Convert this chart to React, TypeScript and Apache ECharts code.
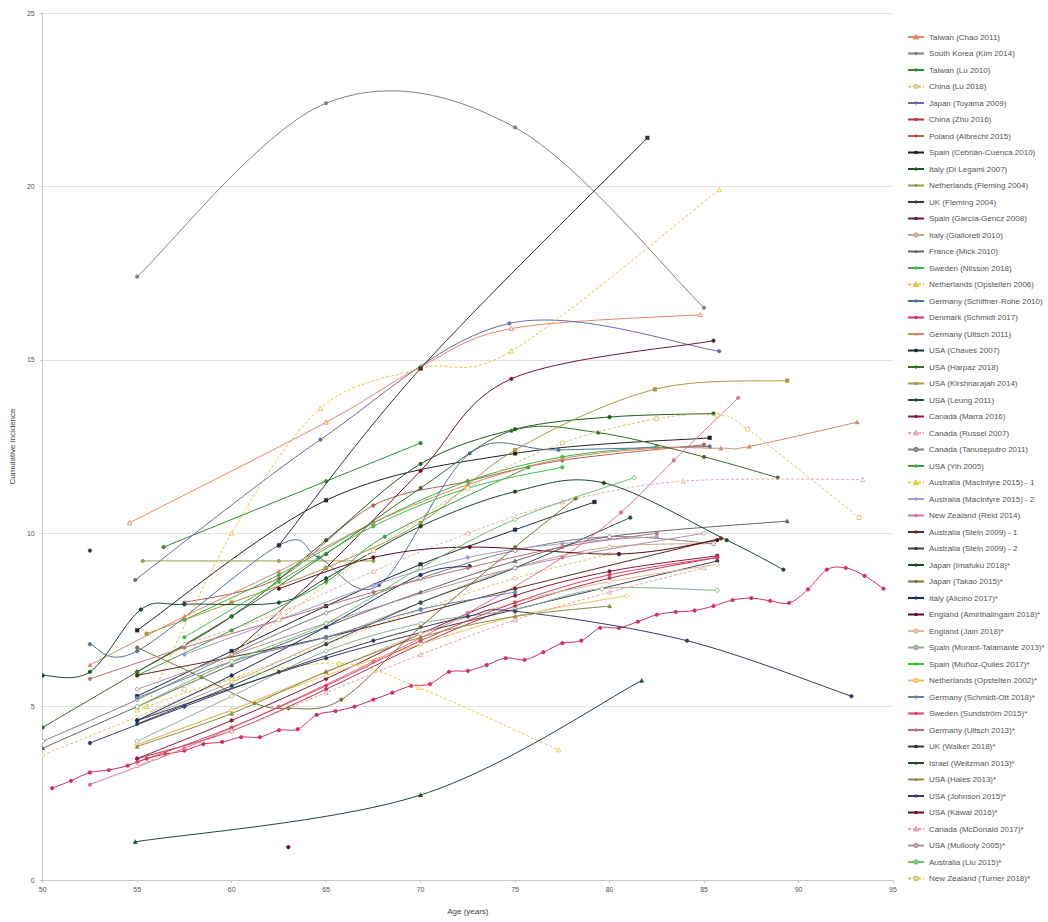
import React, { useEffect, useRef } from "react";
import * as echarts from "echarts";

// ---- data (age, cumulative incidence) ----
const taiwanChao2011 = [[54.6, 10.3], [65, 13.2], [70, 14.8], [74.8, 15.9], [84.8, 16.3]];
const southKoreaKim2014 = [[55, 17.4], [65, 22.4], [75, 21.7], [85, 16.5]];
const taiwanLu2010 = [[56.4, 9.6], [65, 11.5], [70, 12.6]];
const chinaLu2018 = [[50, 3.6], [55, 4.7], [60, 5.8], [65, 6.8], [70, 7.8], [75, 8.7], [80, 9.4]];
const japanToyama2009 = [[54.9, 8.65], [64.7, 12.7], [74.7, 16.05], [85.8, 15.25]];
const chinaZhu2016 = [[55, 3.5], [60, 4.3], [65, 5.5], [70, 6.8], [75, 7.9], [80, 8.7], [85.7, 9.3]];
const polandAlbrecht2015 = [[57.5, 8.0], [62.5, 8.7], [67.5, 10.8], [72.5, 11.5], [77.5, 12.1], [85, 12.55]];
const spainCebrian2010 = [[55, 7.2], [65, 10.95], [75, 12.3], [85.3, 12.75]];
const italyDiLegami2007 = [[55, 6.0], [60, 7.6], [65, 9.8], [70, 12.0], [75, 13.0], [80, 13.35], [85.5, 13.45]];
const netherlandsFleming2004 = [[55.3, 9.2], [62.5, 9.2], [67.5, 9.2]];
const ukFleming2004 = [[52.5, 9.5]];
const spainGarciaGencz2008 = [[60, 6.5], [65, 9.0], [70, 11.8], [74.8, 14.45], [85.5, 15.55]];
const italyGialloreti2010 = [[55, 4.6], [60, 5.7], [65, 6.9], [70, 8.0], [75, 9.0], [80, 9.6], [85.5, 9.7]];
const franceMick2010 = [[50, 3.8], [55, 5.0], [60, 6.2], [65, 7.3], [70, 8.3], [75, 9.2], [80, 9.9], [89.4, 10.35]];
const swedenNilsson2018 = [[57.5, 7.5], [62.5, 8.8], [67.5, 10.3], [72.5, 11.5], [77.5, 12.2], [82.5, 12.5]];
const netherlandsOpstelten2006 = [[55.5, 5.0], [60, 10.0], [64.7, 13.6], [70, 14.75], [74.8, 15.25], [85.8, 19.9]];
const germanySchiffnerRohe2010 = [[52.5, 6.8], [55, 6.6], [62.5, 9.65], [64.6, 9.3], [67.8, 8.5], [72.6, 12.3], [77.3, 12.4], [85.3, 12.5]];
const denmarkAges = [50.5, 51.5, 52.5, 53.5, 54.5, 55.5, 56.5, 57.5, 58.5, 59.5, 60.5, 61.5, 62.5, 63.5, 64.5, 65.5, 66.5, 67.5, 68.5, 69.5, 70.5, 71.5, 72.5, 73.5, 74.5, 75.5, 76.5, 77.5, 78.5, 79.5, 80.5, 81.5, 82.5, 83.5, 84.5, 85.5, 86.5, 87.5, 88.5, 89.5, 90.5, 91.5, 92.5, 93.5, 94.5];
const denmarkValues = [2.65, 2.86, 3.1, 3.17, 3.3, 3.5, 3.63, 3.73, 3.92, 3.98, 4.12, 4.12, 4.32, 4.35, 4.76, 4.87, 5.0, 5.2, 5.4, 5.6, 5.65, 6.0, 6.03, 6.2, 6.4, 6.35, 6.57, 6.83, 6.9, 7.27, 7.27, 7.45, 7.65, 7.73, 7.77, 7.9, 8.07, 8.13, 8.05, 7.99, 8.38, 8.95, 9.0, 8.77, 8.4];
const germanyUltsch2011 = [[52.5, 6.2], [57.5, 7.6], [62.5, 8.9], [67.5, 10.3], [72.5, 11.4], [77.5, 12.15], [82.5, 12.45], [85.9, 12.45], [87.4, 12.5], [93.1, 13.2]];
const usaChaves2007 = [[55, 5.3], [60, 6.6], [65, 7.9], [70, 9.1], [75, 10.1], [79.2, 10.9]];
const usaHarpaz2018 = [[50, 4.4], [55, 6.0], [60, 7.6], [65, 9.4], [70, 11.3], [74.8, 12.95], [79.4, 12.9], [85, 12.2], [88.9, 11.6]];
const usaKirshnarajah2014 = [[55.5, 7.1], [60, 8.0], [65, 9.0], [70, 10.3], [75, 12.4], [82.4, 14.15], [89.4, 14.4]];
const usaLeung2011 = [[55, 4.5], [60, 5.6], [65, 6.8], [70, 8.0], [75, 9.0], [81.1, 10.45]];
const canadaMarra2016 = [[55, 3.5], [60, 4.6], [65, 5.8], [70, 7.1], [75, 8.2], [80, 8.9], [85.7, 9.35]];
const canadaRussel2007 = [[57.5, 6.8], [62.5, 7.7], [67.5, 8.9], [72.5, 10.0], [77.5, 10.9], [83.9, 11.5], [93.4, 11.55]];
const canadaTanuseputro2011 = [[50, 4.0], [55, 5.2], [60, 6.5], [65, 7.7], [70, 8.7], [75, 9.5], [80, 9.9], [85.5, 9.7]];
const usaYih2005 = [[55, 5.9], [60, 7.2], [65, 8.6], [68.1, 9.9], [75.7, 11.9]];
const australiaMacIntyre1 = [[55, 4.9], [60, 5.8], [65.7, 6.25], [69.9, 5.55], [77.3, 3.75]];
const australiaMacIntyre2 = [[57.5, 6.5], [62.5, 7.5], [67.5, 8.5], [72.5, 9.3], [77.5, 9.7], [82.5, 9.9]];
const newZealandReid2014 = [[52.5, 2.75], [57.5, 3.8], [62.5, 5.0], [67.5, 6.3], [72.5, 7.7], [77.5, 9.3], [80.6, 10.6], [83.4, 12.1], [86.8, 13.9]];
const australiaStein1 = [[55, 5.9], [65, 7.0], [75, 8.4], [85.9, 9.85]];
const australiaStein2 = [[55, 4.6], [65, 6.4], [75, 7.8], [85.7, 9.2]];
const japanImafuku2018 = [[50, 5.9], [52.5, 6.0], [55.2, 7.8], [57.5, 7.95], [62.5, 8.0], [65, 8.7], [70, 10.2], [75, 11.2], [79.7, 11.45], [86.2, 9.8], [89.2, 8.95]];
const japanTakao2015 = [[55, 6.7], [58.4, 5.85], [61.2, 5.1], [63, 4.95], [65.8, 5.2], [70, 7.3], [75, 9.6], [78.2, 11.0]];
const italyAlicino2017 = [[55, 4.6], [60, 5.9], [65, 7.3], [70, 8.8], [72.6, 9.05]];
const englandAmirthalingam2018 = [[62.5, 8.4], [67.5, 9.3], [72.6, 9.6], [80.5, 9.4], [85.7, 9.8]];
const englandJain2018 = [[55, 3.9], [60, 4.9], [65, 6.0], [70, 7.1], [75, 8.0], [80, 8.6], [85.7, 9.1]];
const spainMorantTalamante2013 = [[55, 4.0], [60, 5.3], [65, 6.6], [70, 7.4], [75, 7.8], [79.6, 8.4], [85.7, 8.35]];
const spainMunozQuiles2017 = [[57.5, 7.0], [62.5, 8.6], [67.5, 10.2], [72.5, 11.3], [77.5, 11.9]];
const netherlandsOpstelten2002 = [[55, 3.9], [60, 4.9], [65, 5.9], [70, 6.8], [75, 7.6], [80.9, 8.2]];
const germanySchmidtOtt2018 = [[55, 5.25], [60, 6.3], [65, 7.0], [70, 7.8], [75, 8.3]];
const swedenSundstrom2015 = [[55, 3.4], [60, 4.4], [65, 5.6], [70, 6.9], [75, 8.0], [80, 8.8], [85.7, 9.3]];
const germanyUltsch2013 = [[52.5, 5.8], [57.5, 6.7], [62.5, 7.5], [67.5, 8.3], [72.5, 9.0], [77.5, 9.6], [82.5, 10.0]];
const ukWalker2018 = [[62.5, 9.65], [70, 14.75], [82, 21.4]];
const israelWeitzman2013 = [[54.9, 1.1], [70, 2.45], [81.7, 5.75]];
const usaHales2013 = [[55, 3.85], [60, 4.8], [65, 6.0], [70, 7.0], [75, 7.6], [80, 7.9]];
const usaJohnson2015 = [[52.5, 3.95], [57.5, 5.0], [62.5, 6.0], [67.5, 6.9], [72.5, 7.6], [75, 7.75], [84.1, 6.9], [92.8, 5.3]];
const usaKawai2016 = [[63, 0.95]];
const canadaMcDonald2017 = [[55, 3.3], [60, 4.3], [65, 5.4], [70, 6.5], [75, 7.5], [80, 8.3], [85, 9.0]];
const usaMullooly2005 = [[55, 5.5], [65, 7.4], [75, 9.0], [85, 10.0]];
const australiaLiu2015 = [[55, 5.0], [60, 6.3], [65, 7.4], [70, 9.0], [75, 10.4], [81.3, 11.6]];
const newZealandTurner2018 = [[57.5, 5.5], [62.5, 7.5], [67.5, 9.5], [72.5, 11.3], [77.5, 12.6], [82.5, 13.3], [85.7, 13.4], [87.3, 13.0], [93.2, 10.45]];

const xTicks = { min: 50, max: 95, interval: 5 };
const yTicks = { min: 0, max: 25, interval: 5 };

const denmarkSchmidt2017 = denmarkAges.map((a, i) => [a, denmarkValues[i]]);

type Def = { name: string; data: number[][]; color: string; dash?: boolean; symbol?: string };

const defs: Def[] = [
  { name: "Taiwan (Chao 2011)", data: taiwanChao2011, color: "#e8866a", symbol: "emptyTriangle" },
  { name: "South Korea (Kim 2014)", data: southKoreaKim2014, color: "#7f7f8c", symbol: "circle" },
  { name: "Taiwan (Lu 2010)", data: taiwanLu2010, color: "#2e8b2e", symbol: "circle" },
  { name: "China (Lu 2018)", data: chinaLu2018, color: "#e8c070", dash: true, symbol: "emptyCircle" },
  { name: "Japan (Toyama 2009)", data: japanToyama2009, color: "#6a6ab0", symbol: "circle" },
  { name: "China (Zhu 2016)", data: chinaZhu2016, color: "#c0304a", symbol: "circle" },
  { name: "Poland (Albrecht 2015)", data: polandAlbrecht2015, color: "#b06050", symbol: "circle" },
  { name: "Spain (Cebrián-Cuenca 2010)", data: spainCebrian2010, color: "#222222", symbol: "rect" },
  { name: "Italy (Di Legami 2007)", data: italyDiLegami2007, color: "#1f5a1f", symbol: "circle" },
  { name: "Netherlands (Fleming 2004)", data: netherlandsFleming2004, color: "#9a9a50", symbol: "circle" },
  { name: "UK (Fleming 2004)", data: ukFleming2004, color: "#3a3a4a", symbol: "circle" },
  { name: "Spain (García-Gencz 2008)", data: spainGarciaGencz2008, color: "#6a1a2a", symbol: "circle" },
  { name: "Italy (Gialloreti 2010)", data: italyGialloreti2010, color: "#c8a890", symbol: "emptyCircle" },
  { name: "France (Mick 2010)", data: franceMick2010, color: "#666666", symbol: "triangle" },
  { name: "Sweden (Nilsson 2018)", data: swedenNilsson2018, color: "#3cb43c", symbol: "circle" },
  { name: "Netherlands (Opstelten 2006)", data: netherlandsOpstelten2006, color: "#f0c040", dash: true, symbol: "emptyTriangle" },
  { name: "Germany (Schiffner-Rohe 2010)", data: germanySchiffnerRohe2010, color: "#5070a0", symbol: "circle" },
  { name: "Denmark (Schmidt 2017)", data: denmarkSchmidt2017, color: "#d0305a", symbol: "circle" },
  { name: "Germany (Ultsch 2011)", data: germanyUltsch2011, color: "#d08a6a", symbol: "triangle" },
  { name: "USA (Chaves 2007)", data: usaChaves2007, color: "#1a2a3a", symbol: "rect" },
  { name: "USA (Harpaz 2018)", data: usaHarpaz2018, color: "#3a6a2a", symbol: "circle" },
  { name: "USA (Kirshnarajah 2014)", data: usaKirshnarajah2014, color: "#a89a40", symbol: "rect" },
  { name: "USA (Leung 2011)", data: usaLeung2011, color: "#2a4a4a", symbol: "circle" },
  { name: "Canada (Marra 2016)", data: canadaMarra2016, color: "#8a1a3a", symbol: "circle" },
  { name: "Canada (Russel 2007)", data: canadaRussel2007, color: "#eeaaaa", dash: true, symbol: "emptyTriangle" },
  { name: "Canada (Tanuseputro 2011)", data: canadaTanuseputro2011, color: "#808080", symbol: "emptyCircle" },
  { name: "USA (Yih 2005)", data: usaYih2005, color: "#40a040", symbol: "circle" },
  { name: "Australia (MacIntyre 2015) - 1", data: australiaMacIntyre1, color: "#e8d040", dash: true, symbol: "emptyTriangle" },
  { name: "Australia (MacIntyre 2015) - 2", data: australiaMacIntyre2, color: "#a0a0d0", symbol: "circle" },
  { name: "New Zealand (Reid 2014)", data: newZealandReid2014, color: "#e07090", symbol: "circle" },
  { name: "Australia (Stein 2009) - 1", data: australiaStein1, color: "#5a2a1a", symbol: "circle" },
  { name: "Australia (Stein 2009) - 2", data: australiaStein2, color: "#3a3a5a", symbol: "circle" },
  { name: "Japan (Imafuku 2018)*", data: japanImafuku2018, color: "#1a4a2a", symbol: "circle" },
  { name: "Japan (Takao 2015)*", data: japanTakao2015, color: "#7a7030", symbol: "circle" },
  { name: "Italy (Alicino 2017)*", data: italyAlicino2017, color: "#1a2a6a", symbol: "circle" },
  { name: "England (Amirthalingam 2018)*", data: englandAmirthalingam2018, color: "#5a0a1a", symbol: "circle" },
  { name: "England (Jain 2018)*", data: englandJain2018, color: "#e0b890", symbol: "emptyCircle" },
  { name: "Spain (Morant-Talamante 2013)*", data: spainMorantTalamante2013, color: "#90b090", symbol: "emptyCircle" },
  { name: "Spain (Muñoz-Quiles 2017)*", data: spainMunozQuiles2017, color: "#40c040", symbol: "circle" },
  { name: "Netherlands (Opstelten 2002)*", data: netherlandsOpstelten2002, color: "#f0c060", symbol: "emptyCircle" },
  { name: "Germany (Schmidt-Ott 2018)*", data: germanySchmidtOtt2018, color: "#6080b0", symbol: "circle" },
  { name: "Sweden (Sundström 2015)*", data: swedenSundstrom2015, color: "#e04060", symbol: "circle" },
  { name: "Germany (Ultsch 2013)*", data: germanyUltsch2013, color: "#c07070", symbol: "circle" },
  { name: "UK (Walker 2018)*", data: ukWalker2018, color: "#333333", symbol: "rect" },
  { name: "Israel (Weitzman 2013)*", data: israelWeitzman2013, color: "#1e4a2a", symbol: "triangle" },
  { name: "USA (Hales 2013)*", data: usaHales2013, color: "#8a8a3a", symbol: "triangle" },
  { name: "USA (Johnson 2015)*", data: usaJohnson2015, color: "#3a3a6a", symbol: "circle" },
  { name: "USA (Kawai 2016)*", data: usaKawai2016, color: "#6a0a1a", symbol: "circle" },
  { name: "Canada (McDonald 2017)*", data: canadaMcDonald2017, color: "#f0a0a0", dash: true, symbol: "emptyTriangle" },
  { name: "USA (Mullooly 2005)*", data: usaMullooly2005, color: "#b090a0", symbol: "emptyCircle" },
  { name: "Australia (Liu 2015)*", data: australiaLiu2015, color: "#70c070", symbol: "emptyCircle" },
  { name: "New Zealand (Turner 2018)*", data: newZealandTurner2018, color: "#e0c070", dash: true, symbol: "emptyRect" },
];

// Excel-like (Catmull-Rom) smoothed path through pixel points
function smoothPath(pts: number[][]): string {
  let d = `M${pts[0][0]},${pts[0][1]}`;
  for (let i = 0; i < pts.length - 1; i++) {
    const p0 = pts[i - 1] || pts[i];
    const p1 = pts[i];
    const p2 = pts[i + 1];
    const p3 = pts[i + 2] || pts[i + 1];
    const c1x = p1[0] + (p2[0] - p0[0]) / 6;
    const c1y = p1[1] + (p2[1] - p0[1]) / 6;
    const c2x = p2[0] - (p3[0] - p1[0]) / 6;
    const c2y = p2[1] - (p3[1] - p1[1]) / 6;
    d += ` C${c1x},${c1y} ${c2x},${c2y} ${p2[0]},${p2[1]}`;
  }
  return d;
}

function markerEl(sym: string, color: string, cx: number, cy: number) {
  const empty = sym.startsWith("empty");
  const base = empty ? sym.slice(5).toLowerCase() : sym;
  const style = empty
    ? { fill: "#ffffff", stroke: color, lineWidth: 0.9 }
    : { fill: color, stroke: color, lineWidth: 0.3 };
  const r = 1.9;
  if (base === "rect") {
    return { type: "rect", shape: { x: cx - r, y: cy - r, width: 2 * r, height: 2 * r }, style };
  }
  if (base === "triangle") {
    return {
      type: "polygon",
      shape: { points: [[cx, cy - r - 0.4], [cx + r + 0.3, cy + r], [cx - r - 0.3, cy + r]] },
      style,
    };
  }
  return { type: "circle", shape: { cx, cy, r }, style };
}

export default function App() {
  const ref = useRef<HTMLDivElement>(null);
  useEffect(() => {
    if (!ref.current) return;
    const chart = echarts.init(ref.current, undefined, { renderer: "svg" });
    const font = "Liberation Sans, Arial, sans-serif";

    // legend-only line series (supply line + marker legend icons)
    const legendSeries = defs.map((d) => ({
      name: d.name,
      type: "line",
      data: [],
      symbol: d.symbol || "circle",
      symbolSize: 4,
      lineStyle: { color: d.color, width: 1, type: d.dash ? [3, 2] : "solid" },
      itemStyle: { color: d.color, borderColor: d.color },
    }));

    const curveSeries = defs.map((d) => ({
      name: d.name,
      type: "custom",
      coordinateSystem: "cartesian2d",
      data: d.data,
      encode: { x: 0, y: 1 },
      clip: true,
      renderItem: (params: any, api: any) => {
        const pt = api.coord([api.value(0), api.value(1)]);
        const children: any[] = [];
        if (params.dataIndex === 0 && d.data.length > 1) {
          const pts = d.data.map((p) => api.coord(p));
          children.push({
            type: "path",
            shape: { pathData: smoothPath(pts) },
            style: {
              fill: "none",
              stroke: d.color,
              lineWidth: 1,
              lineDash: d.dash ? [3, 2] : null,
            },
          });
        }
        children.push(markerEl(d.symbol || "circle", d.color, pt[0], pt[1]));
        return { type: "group", children };
      },
    }));

    chart.setOption({
      animation: false,
      backgroundColor: "#ffffff",
      grid: { left: 38, right: 155, top: 13, bottom: 42, containLabel: false },
      xAxis: {
        type: "value",
        min: xTicks.min,
        max: xTicks.max,
        interval: xTicks.interval,
        name: "Age (years)",
        nameLocation: "middle",
        nameGap: 27,
        nameTextStyle: { fontSize: 8, color: "#444", fontFamily: font },
        axisLine: { show: true, lineStyle: { color: "#c8c8c8" } },
        axisTick: { show: true, length: 3, lineStyle: { color: "#c8c8c8" } },
        axisLabel: { fontSize: 7, color: "#555", fontFamily: font, margin: 6 },
        splitLine: { show: false },
      },
      yAxis: {
        type: "value",
        min: yTicks.min,
        max: yTicks.max,
        interval: yTicks.interval,
        name: "Cumulative incidence",
        nameLocation: "middle",
        nameGap: 22,
        nameTextStyle: { fontSize: 8, color: "#444", fontFamily: font },
        axisLine: { show: true, lineStyle: { color: "#c8c8c8" } },
        axisTick: { show: true, length: 3, lineStyle: { color: "#c8c8c8" } },
        axisLabel: { fontSize: 7, color: "#555", fontFamily: font, margin: 8 },
        splitLine: { show: true, lineStyle: { color: "#e2e2e2", width: 1 } },
      },
      legend: {
        orient: "vertical",
        left: 902,
        top: 28,
        itemWidth: 16,
        itemHeight: 4,
        itemGap: 8.5,
        textStyle: { fontSize: 8, color: "#555", fontFamily: font, lineHeight: 8 },
        data: defs.map((d) => d.name),
      },
      series: [...legendSeries, ...curveSeries],
    });
    return () => chart.dispose();
  }, []);
  return (
    <div
      ref={ref}
      style={{ position: "absolute", left: 0, top: 0, width: 1048, height: 922 }}
    />
  );
}
